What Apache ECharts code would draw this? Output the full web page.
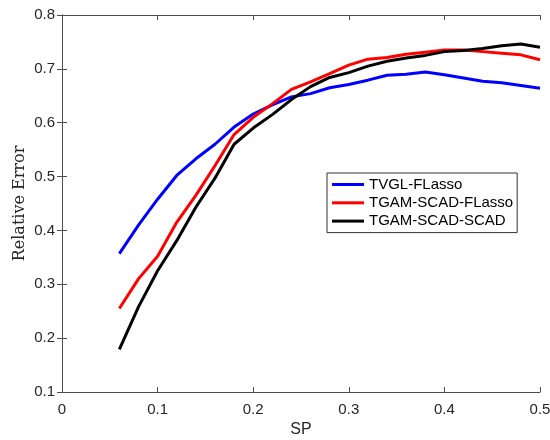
<!DOCTYPE html>
<html><head><meta charset="utf-8">
<script src="https://cdn.jsdelivr.net/npm/echarts@6/dist/echarts.min.js"></script>
<style>html,body{margin:0;padding:0;background:#fff}#c{width:550px;height:440px}</style>
</head><body><div id="c"></div>
<script>
const spValues = [0.06,0.08,0.10,0.12,0.14,0.16,0.18,0.20,0.22,0.24,0.26,0.28,0.30,0.32,0.34,0.36,0.38,0.40,0.42,0.44,0.46,0.48,0.50];
const tvglFLasso = [0.357,0.410,0.458,0.502,0.533,0.560,0.592,0.616,0.633,0.648,0.654,0.665,0.671,0.679,0.688,0.690,0.694,0.689,0.683,0.677,0.674,0.669,0.664];
const tgamScadFLasso = [0.255,0.310,0.352,0.415,0.465,0.520,0.578,0.610,0.635,0.662,0.676,0.691,0.707,0.718,0.721,0.727,0.731,0.735,0.735,0.732,0.729,0.726,0.717];
const tgamScadScad = [0.179,0.258,0.325,0.381,0.443,0.497,0.560,0.590,0.615,0.643,0.667,0.684,0.693,0.705,0.714,0.720,0.725,0.732,0.734,0.738,0.743,0.746,0.740];
const seriesNames = ['TVGL-FLasso','TGAM-SCAD-FLasso','TGAM-SCAD-SCAD'];
const seriesColors = ['#0000ff','#ff0000','#000000'];
const seriesData = [tvglFLasso, tgamScadFLasso, tgamScadScad];

const axisCol = '#4d4d4d';
const labelCol = '#262626';
const font = 'Liberation Sans, Arial, Helvetica, sans-serif';

const chart = echarts.init(document.getElementById('c'), null, {renderer:'canvas'});
const baseX = {type:'value', min:0, max:0.5, interval:0.1,
  axisLine:{show:true, lineStyle:{color:axisCol, width:1}},
  axisTick:{show:true, inside:true, length:5, lineStyle:{color:axisCol}},
  splitLine:{show:false}};
const baseY = {type:'value', min:0.1, max:0.8, interval:0.1,
  axisLine:{show:true, lineStyle:{color:axisCol, width:1}},
  axisTick:{show:true, inside:true, length:5, lineStyle:{color:axisCol}},
  splitLine:{show:false}};
chart.setOption({
  animation:false,
  backgroundColor:'#fff',
  grid:{left:62, right:10, top:15, bottom:48, containLabel:false, outerBoundsMode:'none'},
  legend:{
    orient:'vertical', left:327, top:173,
    data:seriesNames.map((n,i)=>({name:n, icon:'rect'})),
    itemWidth:32, itemHeight:3, itemGap:3.3,
    borderColor:'#333', borderWidth:1, padding:[4,4,4,5],
    backgroundColor:'#fff',
    textStyle:{fontFamily:font, fontSize:15, color:'#000'}
  },
  xAxis:[
    Object.assign({}, baseX, {position:'bottom',
      name:'SP', nameLocation:'middle', nameGap:30, nameMoveOverlap:false,
      nameTextStyle:{fontFamily:font, fontSize:16, color:labelCol},
      axisLabel:{formatter:v=>String(Math.round(v*10)/10), fontFamily:font, fontSize:15, color:labelCol, margin:10}}),
    Object.assign({}, baseX, {position:'top', axisLabel:{show:false}})
  ],
  yAxis:[
    Object.assign({}, baseY, {position:'left',
      name:'Relative Error', nameLocation:'middle', nameGap:34, nameMoveOverlap:false,
      nameTextStyle:{fontFamily:'DejaVu Serif, serif', fontSize:16, color:labelCol},
      axisLabel:{formatter:v=>(Math.round(v*10)/10).toFixed(1), fontFamily:font, fontSize:15, color:labelCol, margin:7}}),
    Object.assign({}, baseY, {position:'right', axisLabel:{show:false}})
  ],
  series: seriesNames.map((n,i)=>({
    name:n, type:'line', xAxisIndex:0, yAxisIndex:0,
    data: spValues.map((x,j)=>[x, seriesData[i][j]]),
    showSymbol:false, symbol:'none',
    lineStyle:{color:seriesColors[i], width:3},
    itemStyle:{color:seriesColors[i]}
  }))
});
</script></body></html>
